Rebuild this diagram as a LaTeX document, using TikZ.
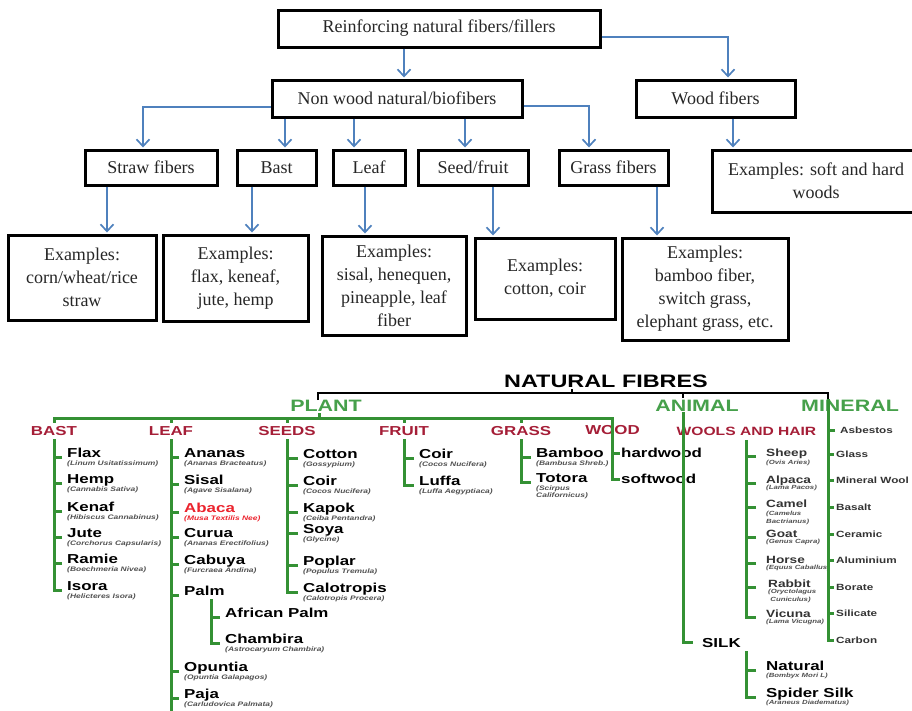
\documentclass[tikz,border=0pt]{standalone}
\usepackage{fontspec}
\setmainfont{Liberation Serif}
\newfontfamily\widesans[FakeStretch=1.3]{Liberation Sans}
\usetikzlibrary{arrows.meta,positioning}
\definecolor{arrblue}{RGB}{79,129,189}
\definecolor{treegreen}{RGB}{52,145,52}
\definecolor{kindgreen}{RGB}{70,160,75}
\definecolor{partred}{RGB}{165,30,55}
\definecolor{abacared}{RGB}{235,35,45}
\definecolor{latingray}{RGB}{80,80,80}
\tikzset{
  fbox/.style={draw,line width=3pt,align=center,inner sep=0pt,text=black!85,font=\fontsize{18}{23}\selectfont},
  arr/.style={draw=arrblue,line width=1.7pt,shorten >=1pt,-{Straight Barb[length=7pt,width=13pt]}},
  tree/.style={draw=treegreen,line width=3pt},
  brace/.style={draw=black,line width=2.6pt},
  kind/.style={font=\widesans\bfseries\fontsize{16.5}{17}\selectfont,text=kindgreen,inner sep=0pt},
  part/.style={font=\widesans\bfseries\fontsize{13}{13}\selectfont,text=partred,inner sep=0pt},
  fib/.style={font=\widesans\bfseries\fontsize{13}{13}\selectfont,anchor=base west,inner sep=0pt},
  sfib/.style={font=\widesans\bfseries\fontsize{10.5}{11}\selectfont,text=black!80,anchor=base west,inner sep=0pt},
  minfib/.style={font=\widesans\bfseries\fontsize{9}{9}\selectfont,text=black!80,anchor=west,inner sep=0pt},
  latin/.style={font=\widesans\bfseries\itshape\fontsize{6.5}{7.5}\selectfont,text=latingray,anchor=north west,inner sep=0pt,align=left},
  slatin/.style={latin,font=\widesans\bfseries\itshape\fontsize{6}{7.5}\selectfont},
}
\begin{document}
\begin{tikzpicture}[x=1pt,y=-1pt]
\useasboundingbox (0,0) rectangle (912,710);
% upper chart
\node[fbox,minimum width=322pt,minimum height=37pt] (reinf) at (439,28.5) {Reinforcing natural fibers/fillers};
\node[fbox,minimum width=250pt,minimum height=37pt] (nonwood) at (397,98.5) {Non wood natural/biofibers};
\node[fbox,minimum width=159pt,minimum height=37pt] (wood) at (715.5,98.5) {Wood fibers};
\node[fbox,minimum width=132pt,minimum height=35pt] (straw) at (151,167.5) {Straw fibers};
\node[fbox,minimum width=79pt,minimum height=35pt] (bast) at (276.5,167.5) {Bast};
\node[fbox,minimum width=72pt,minimum height=35pt] (leaf) at (369,167.5) {Leaf};
\node[fbox,minimum width=110pt,minimum height=35pt] (seed) at (473,167.5) {Seed/fruit};
\node[fbox,minimum width=109pt,minimum height=35pt] (grass) at (613.5,167.5) {Grass fibers};
\node[fbox,minimum width=208pt,minimum height=62pt] (woodex) at (816,181) {Examples: soft and hard\\woods};
\node[fbox,minimum width=148pt,minimum height=85pt] (strawex) at (82,277.5) {Examples:\\corn/wheat/rice\\straw};
\node[fbox,minimum width=145pt,minimum height=86pt] (bastex) at (235.5,278) {Examples:\\flax, keneaf,\\jute, hemp};
\node[fbox,minimum width=144pt,minimum height=99pt] (leafex) at (394,285.5) {Examples:\\sisal, henequen,\\pineapple, leaf\\fiber};
\node[fbox,minimum width=140pt,minimum height=81pt] (seedex) at (545,278.5) {Examples:\\cotton, coir};
\node[fbox,minimum width=166pt,minimum height=102pt] (grassex) at (705,289) {Examples:\\bamboo fiber,\\switch grass,\\elephant grass, etc.};

\coordinate (nwin) at ([xshift=7pt]nonwood.north);
\coordinate (bastin) at ([xshift=8.5pt]bast.north);
\coordinate (leafin) at ([xshift=-15pt]leaf.north);
\coordinate (seedin) at ([xshift=-8pt]seed.north);
\coordinate (woodout) at ([xshift=17.5pt]wood.south);
\coordinate (strawexin) at ([xshift=25pt]strawex.north);
\coordinate (bastexin) at ([xshift=16.5pt]bastex.north);
\coordinate (leafexin) at ([xshift=-29pt]leafex.north);
\coordinate (seedexin) at ([xshift=-52pt]seedex.north);
\coordinate (grassexin) at ([xshift=-48pt]grassex.north);
\draw[arr] (reinf.south -| nwin) -- (nwin);
\draw[arr] ([yshift=-8.5pt]reinf.east) -| ([xshift=12.5pt]wood.north);
\draw[arr] ([yshift=-8.5pt]nonwood.west) -| ([xshift=-8pt]straw.north);
\draw[arr] (nonwood.south -| bastin) -- (bastin);
\draw[arr] (nonwood.south -| leafin) -- (leafin);
\draw[arr] (nonwood.south -| seedin) -- (seedin);
\draw[arr] ([yshift=-7.5pt]nonwood.east) -| ([xshift=-24.5pt]grass.north);
\draw[arr] (woodout) -- (woodout |- woodex.north);
\draw[arr] (straw.south -| strawexin) -- (strawexin);
\draw[arr] (bast.south -| bastexin) -- (bastexin);
\draw[arr] (leaf.south -| leafexin) -- (leafexin);
\draw[arr] (seed.south -| seedexin) -- (seedexin);
\draw[arr] (grass.south -| grassexin) -- (grassexin);

% lower chart
\node[font=\widesans\bfseries\fontsize{18}{18}\selectfont,inner sep=0pt] (natf) at (606,381) {NATURAL FIBRES};
\node[kind] (plant) at (326,406) {PLANT};
\node[kind] (animal) at (697,406) {ANIMAL};
\node[kind] (mineral) at (850,405.5) {MINERAL};
\node[part] (cbast) at (54,431.5) {BAST};
\node[part] (cleaf) at (171,431.5) {LEAF};
\node[part] (cseeds) at (287,431.5) {SEEDS};
\node[part] (cfruit) at (404,431.5) {FRUIT};
\node[part] (cgrass) at (521,431.5) {GRASS};
\node[part] (cwood) at (612.5,430) {WOOD};
\node[part,font=\widesans\bfseries\fontsize{12}{12}\selectfont] (cwools) at (746.5,431.5) {WOOLS AND HAIR};

\node[fib] (flax) at (67,457) {Flax};
\node[latin] (flaxl) at ([yshift=-3.5pt]flax.base west) {(Linum Usitatissimum)};
\node[fib] (hemp) at (67,483) {Hemp};
\node[latin] (hempl) at ([yshift=-3.5pt]hemp.base west) {(Cannabis Sativa)};
\node[fib] (kenaf) at (67,511) {Kenaf};
\node[latin] (kenafl) at ([yshift=-3.5pt]kenaf.base west) {(Hibiscus Cannabinus)};
\node[fib] (jute) at (67,537) {Jute};
\node[latin] (jutel) at ([yshift=-3.5pt]jute.base west) {(Corchorus Capsularis)};
\node[fib] (ramie) at (67,563) {Ramie};
\node[latin] (ramiel) at ([yshift=-3.5pt]ramie.base west) {(Boechmeria Nivea)};
\node[fib] (isora) at (67,590) {Isora};
\node[latin] (isoral) at ([yshift=-3.5pt]isora.base west) {(Helicteres Isora)};

\node[fib] (ananas) at (184,457) {Ananas};
\node[latin] (ananasl) at ([yshift=-3.5pt]ananas.base west) {(Ananas Bracteatus)};
\node[fib] (sisal) at (184,484) {Sisal};
\node[latin] (sisall) at ([yshift=-3.5pt]sisal.base west) {(Agave Sisalana)};
\node[fib,text=abacared] (abaca) at (184,512) {Abaca};
\node[latin,text=abacared] (abacal) at ([yshift=-3.5pt]abaca.base west) {(Musa Textilis Nee)};
\node[fib] (curua) at (184,537) {Curua};
\node[latin] (curual) at ([yshift=-3.5pt]curua.base west) {(Ananas Erectifolius)};
\node[fib] (cabuya) at (184,564) {Cabuya};
\node[latin] (cabuyal) at ([yshift=-3.5pt]cabuya.base west) {(Furcraea Andina)};
\node[fib] (palm) at (184,595) {Palm};
\node[fib] (afpalm) at (225,617) {African Palm};
\node[fib] (chambira) at (225,643) {Chambira};
\node[latin] (chambiral) at ([yshift=-3.5pt]chambira.base west) {(Astrocaryum Chambira)};
\node[fib] (opuntia) at (184,671) {Opuntia};
\node[latin] (opuntial) at ([yshift=-3.5pt]opuntia.base west) {(Opuntia Galapagos)};
\node[fib] (paja) at (184,698) {Paja};
\node[latin] (pajal) at ([yshift=-3.5pt]paja.base west) {(Carludovica Palmata)};

\node[fib] (cotton) at (303,458) {Cotton};
\node[latin] (cottonl) at ([yshift=-3.5pt]cotton.base west) {(Gossypium)};
\node[fib] (coir) at (303,485) {Coir};
\node[latin] (coirl) at ([yshift=-3.5pt]coir.base west) {(Cocos Nucifera)};
\node[fib] (kapok) at (303,512) {Kapok};
\node[latin] (kapokl) at ([yshift=-3.5pt]kapok.base west) {(Ceiba Pentandra)};
\node[fib] (soya) at (303,533) {Soya};
\node[latin] (soyal) at ([yshift=-3.5pt]soya.base west) {(Glycine)};
\node[fib] (poplar) at (303,565) {Poplar};
\node[latin] (poplarl) at ([yshift=-3.5pt]poplar.base west) {(Populus Tremula)};
\node[fib] (calotropis) at (303,592) {Calotropis};
\node[latin] (calotropisl) at ([yshift=-3.5pt]calotropis.base west) {(Calotropis Procera)};

\node[fib] (fcoir) at (419,458) {Coir};
\node[latin] (fcoirl) at ([yshift=-3.5pt]fcoir.base west) {(Cocos Nucifera)};
\node[fib] (luffa) at (419,485) {Luffa};
\node[latin] (luffal) at ([yshift=-3.5pt]luffa.base west) {(Luffa Aegyptiaca)};

\node[fib] (bamboo) at (536,457) {Bamboo};
\node[latin] (bambool) at ([yshift=-3.5pt]bamboo.base west) {(Bambusa Shreb.)};
\node[fib] (totora) at (536,482) {Totora};
\node[latin] (totoral) at ([yshift=-3.5pt]totora.base west) {(Scirpus\\Californicus)};

\node[fib,anchor=west] (hardwood) at (621,453) {hardwood};
\node[fib,anchor=west] (softwood) at (621,479) {softwood};

\node[sfib] (sheep) at (766,456) {Sheep};
\node[slatin] (sheepl) at ([yshift=-3.5pt]sheep.base west) {(Ovis Aries)};
\node[sfib] (alpaca) at (766,483) {Alpaca};
\node[slatin] (alpacal) at ([yshift=-2pt]alpaca.base west) {(Lama Pacos)};
\node[sfib] (camel) at (766,507) {Camel};
\node[slatin] (camell) at ([yshift=-4pt]camel.base west) {(Camelus\\Bactrianus)};
\node[sfib] (goat) at (766,537) {Goat};
\node[slatin] (goatl) at ([yshift=-2pt]goat.base west) {(Genus Capra)};
\node[sfib] (horse) at (766,563) {Horse};
\node[slatin] (horsel) at ([yshift=-2pt]horse.base west) {(Equus Caballus)};
\node[sfib] (rabbit) at (768,587) {Rabbit};
\node[slatin] (rabbitl) at ([yshift=-2pt]rabbit.base west) {(Oryctolagus\\\ Cuniculus)};
\node[sfib] (vicuna) at (766,617) {Vicuna};
\node[slatin] (vicunal) at ([yshift=-2pt]vicuna.base west) {(Lama Vicugna)};

\node[fib] (silk) at (702,647) {SILK};
\node[fib] (natural) at (766,670) {Natural};
\node[slatin] (naturall) at ([yshift=-3pt]natural.base west) {(Bombyx Mori L)};
\node[fib] (spider) at (766,697) {Spider Silk};
\node[slatin] (spiderl) at ([yshift=-3pt]spider.base west) {(Araneus Diadematus)};

\node[minfib] (asbestos) at (840,430) {Asbestos};
\node[minfib] (glass) at (836,454) {Glass};
\node[minfib] (minwool) at (836,480) {Mineral Wool};
\node[minfib] (basalt) at (836,507) {Basalt};
\node[minfib] (ceramic) at (836,534) {Ceramic};
\node[minfib] (alu) at (836,560) {Aluminium};
\node[minfib] (borate) at (836,587) {Borate};
\node[minfib] (silicate) at (836,613) {Silicate};
\node[minfib] (carbon) at (836,640) {Carbon};

% black bracket
\coordinate (brl) at (318,393);
\coordinate (brc) at (572,393);
\coordinate (bra) at (683,393);
\coordinate (brr) at (828,393);
\coordinate (pl) at (319,418);
\draw[brace] ([yshift=-7pt]brl) -- (brl) -- (brr) -- ++(0,6);
\draw[brace] (brc) -- ++(0,-4);
\draw[brace] (bra) -- ++(0,5);

% plant tree
\draw[tree] (pl) -- ++(0,-5);
\draw[tree] ([yshift=4pt]cbast.north) |- (pl) -| (cwood.north |- softwood.west) -- ([xshift=-1pt]softwood.west);
\draw[tree] ([xshift=-1pt]hardwood.west) -- (cwood.north |- hardwood.west);
\draw[tree] ([yshift=4pt]cleaf.north) -- (cleaf.north |- pl);
\draw[tree] ([yshift=4pt]cseeds.north) -- (cseeds.north |- pl);
\draw[tree] ([yshift=4pt]cfruit.north) -- (cfruit.north |- pl);
\draw[tree] ([yshift=4pt]cgrass.north) -- (cgrass.north |- pl);

\draw[tree] ([yshift=-3pt]cbast.south) |- ([xshift=-5pt]isora.base west);
\draw[tree] ([xshift=-5pt]flax.base west) -- (cbast.south |- flax.base west);
\draw[tree] ([xshift=-5pt]hemp.base west) -- (cbast.south |- hemp.base west);
\draw[tree] ([xshift=-5pt]kenaf.base west) -- (cbast.south |- kenaf.base west);
\draw[tree] ([xshift=-5pt]jute.base west) -- (cbast.south |- jute.base west);
\draw[tree] ([xshift=-5pt]ramie.base west) -- (cbast.south |- ramie.base west);

\draw[tree] ([yshift=-3pt]cleaf.south) -- (cleaf.south |- paja.base west) -- ++(0,16);
\draw[tree] ([xshift=-5pt]ananas.base west) -- (cleaf.south |- ananas.base west);
\draw[tree] ([xshift=-5pt]sisal.base west) -- (cleaf.south |- sisal.base west);
\draw[tree] ([xshift=-5pt]abaca.base west) -- (cleaf.south |- abaca.base west);
\draw[tree] ([xshift=-5pt]curua.base west) -- (cleaf.south |- curua.base west);
\draw[tree] ([xshift=-5pt]cabuya.base west) -- (cleaf.south |- cabuya.base west);
\draw[tree] ([xshift=-5pt]palm.base west) -- (cleaf.south |- palm.base west);
\draw[tree] ([xshift=-5pt]opuntia.base west) -- (cleaf.south |- opuntia.base west);
\draw[tree] ([xshift=-5pt]paja.base west) -- (cleaf.south |- paja.base west);
\coordinate (palmv) at ([xshift=27pt,yshift=-4pt]palm.base west);
\draw[tree] (palmv) |- ([xshift=-5pt]chambira.base west);
\draw[tree] ([xshift=-5pt]afpalm.base west) -- (palmv |- afpalm.base west);

\draw[tree] ([yshift=-3pt]cseeds.south) |- ([xshift=-5pt]calotropis.base west);
\draw[tree] ([xshift=-5pt]cotton.base west) -- (cseeds.south |- cotton.base west);
\draw[tree] ([xshift=-5pt]coir.base west) -- (cseeds.south |- coir.base west);
\draw[tree] ([xshift=-5pt]kapok.base west) -- (cseeds.south |- kapok.base west);
\draw[tree] ([xshift=-5pt]soya.base west) -- (cseeds.south |- soya.base west);
\draw[tree] ([xshift=-5pt]poplar.base west) -- (cseeds.south |- poplar.base west);

\draw[tree] ([yshift=-3pt]cfruit.south) |- ([xshift=-5pt]luffa.base west);
\draw[tree] ([xshift=-5pt]fcoir.base west) -- (cfruit.south |- fcoir.base west);
\draw[tree] ([yshift=-3pt]cgrass.south) |- ([xshift=-5pt]totora.base west);
\draw[tree] ([xshift=-5pt]bamboo.base west) -- (cgrass.south |- bamboo.base west);

% animal tree
\draw[tree] (animal.south -| bra) |- ([xshift=-9pt]silk.west);
\draw[tree] ([yshift=-4pt]cwools.south) |- ([xshift=-10pt]vicuna.base west);
\draw[tree] ([xshift=-10pt]sheep.base west) -- (cwools.south |- sheep.base west);
\draw[tree] ([xshift=-10pt]alpaca.base west) -- (cwools.south |- alpaca.base west);
\draw[tree] ([xshift=-10pt]camel.base west) -- (cwools.south |- camel.base west);
\draw[tree] ([xshift=-10pt]goat.base west) -- (cwools.south |- goat.base west);
\draw[tree] ([xshift=-10pt]horse.base west) -- (cwools.south |- horse.base west);
\draw[tree] ([xshift=-12pt]rabbit.base west) -- (cwools.south |- rabbit.base west);
\coordinate (silkv) at ([xshift=44pt,yshift=-4pt]silk.base west);
\draw[tree] (silkv) |- ([xshift=-10pt]spider.base west);
\draw[tree] ([xshift=-10pt]natural.base west) -- (silkv |- natural.base west);

% mineral tree
\draw[tree] ([yshift=-6pt]brr) |- ([xshift=-2pt]carbon.west);
\draw[tree] ([xshift=-5pt]asbestos.west) -- (brr |- asbestos.west);
\draw[tree] ([xshift=-2pt]glass.west) -- (brr |- glass.west);
\draw[tree] ([xshift=-2pt]minwool.west) -- (brr |- minwool.west);
\draw[tree] ([xshift=-2pt]basalt.west) -- (brr |- basalt.west);
\draw[tree] ([xshift=-2pt]ceramic.west) -- (brr |- ceramic.west);
\draw[tree] ([xshift=-2pt]alu.west) -- (brr |- alu.west);
\draw[tree] ([xshift=-2pt]borate.west) -- (brr |- borate.west);
\draw[tree] ([xshift=-2pt]silicate.west) -- (brr |- silicate.west);
\end{tikzpicture}
\end{document}
